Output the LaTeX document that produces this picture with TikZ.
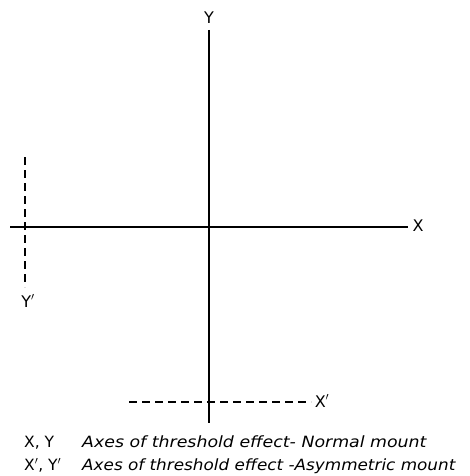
\documentclass[tikz,border=0pt]{standalone}
\usepackage{fontspec}
\setmainfont{DejaVu Sans}
\begin{document}
\begin{tikzpicture}[x=1pt,y=-1pt,
  axis/.style={line width=1.8pt,black},
  daxis/.style={line width=1.4pt,black,dash pattern=on 8pt off 5pt},
  lbl/.style={inner sep=0pt,font=\fontsize{16}{16}\selectfont},
  legend/.style={inner sep=0pt,anchor=base west,font=\fontsize{15.5}{16}\selectfont}]
\useasboundingbox (0,0) rectangle (470,476);
% solid axes
\coordinate (yt) at (209,30);
\coordinate (yb) at (209,423);
\coordinate (xl) at (10,227);
\coordinate (xr) at (408,227);
\draw[axis] (yt) -- (yb);
\draw[axis] (xl) -- (xr);
\node[lbl] (Y) at (209,18) {Y};
\node[lbl] (X) at (418,226) {X};
% dashed axes
\coordinate (ypt) at (25,157);
\coordinate (ypb) at (25,287);
\coordinate (xpl) at (129,402);
\coordinate (xpr) at (311,402);
\draw[daxis] (ypt) -- (ypb);
\draw[daxis] (xpl) -- (xpr);
\node[lbl] (Yp) at (28,301) {Y$'$};
\node[lbl] (Xp) at (322,401) {X$'$};
% legend
\node[legend] (l1a) at (24,447) {X, Y};
\node[legend] (l1b) at (82,447) {\scalebox{1.12}[1]{\itshape Axes of threshold effect- Normal mount}};
\node[legend] (l2a) at (24,470) {X$'$, Y$'$};
\node[legend] (l2b) at (82,470) {\scalebox{1.085}[1]{\itshape Axes of threshold effect -Asymmetric mount}};
\end{tikzpicture}
\end{document}
